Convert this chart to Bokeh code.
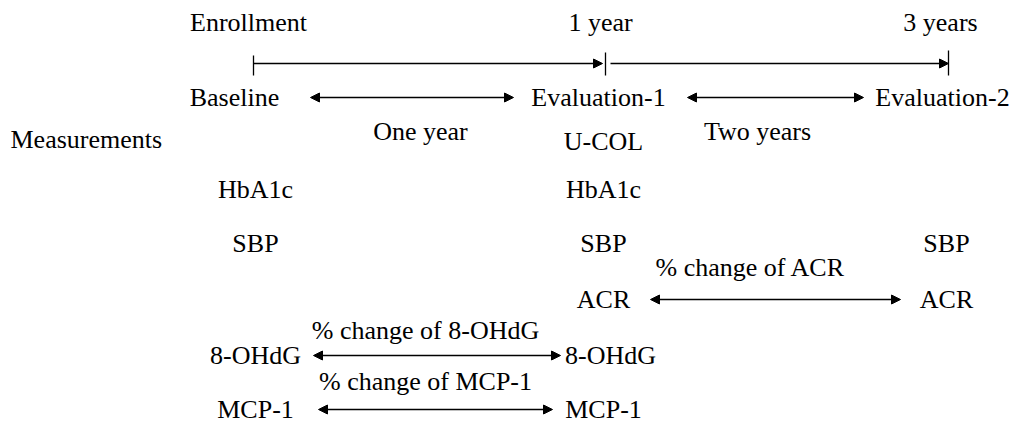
from bokeh.plotting import figure
from bokeh.models import Range1d, Arrow, NormalHead, ColumnDataSource
from bokeh.core.properties import value
from bokeh.embed import file_html
from bokeh.resources import INLINE

# ---- data (labels of the study design diagram) ----
time_points = ["Enrollment", "1 year", "3 years"]
stages = ["Baseline", "Evaluation-1", "Evaluation-2"]
intervals = ["One year", "Two years"]
row_title = ["Measurements"]
baseline_measures = ["HbA1c", "SBP", "8-OHdG", "MCP-1"]
eval1_measures = ["U-COL", "HbA1c", "SBP", "ACR", "8-OHdG", "MCP-1"]
eval2_measures = ["SBP", "ACR"]
change_labels = ["% change of ACR", "% change of 8-OHdG", "% change of MCP-1"]
change_measures = ["ACR", "8-OHdG", "MCP-1"]

# ---- layout (diagram coordinates) ----
FONT = value("Liberation Serif, Times New Roman, DejaVu Serif, serif")
FS = "26px"
col_x = [255, 603, 946]
header_x = [248, 600, 940]
stage_x = [234, 598, 942]
interval_x = [420, 757]
header_y, timeline_y, stage_y, interval_y = 22, 63, 97, 131
row_y = {"U-COL": 141, "HbA1c": 189, "SBP": 243, "ACR": 299, "8-OHdG": 355, "MCP-1": 409}
x_shift = {(1, "8-OHdG"): 7}
change_x = [750, 425, 425]
change_y = [267, 330, 381]
change_span = {"ACR": (650, 900), "8-OHdG": (313, 560), "MCP-1": (318, 552)}
stage_span = [(310, 513), (687, 863)]
tick_x = [253, 605, 948]
tick_top = [55, 52, 50]
timeline_span = [(253, 602), (610, 948)]

p = figure(width=1015, height=423, x_range=Range1d(0, 1015), y_range=Range1d(423, 0),
           output_backend="svg", toolbar_location=None, min_border=0)
p.axis.visible = False
p.grid.visible = False
p.outline_line_color = None
p.background_fill_color = "white"


def put(xs, ys, texts, align="center"):
    src = ColumnDataSource(dict(x=xs, y=ys, t=texts))
    p.text("x", "y", text="t", source=src, text_font=FONT, text_font_size=FS,
           text_align=align, text_baseline="middle", text_color="black")


put(header_x, [header_y] * 3, time_points)
put(stage_x, [stage_y] * 3, stages)
put(interval_x, [interval_y] * 2, intervals)
put([10], [139], row_title, align="left")

for ci, measures in enumerate([baseline_measures, eval1_measures, eval2_measures]):
    xs = [col_x[ci] + x_shift.get((ci, m), 0) for m in measures]
    ys = [row_y[m] for m in measures]
    put(xs, ys, measures)

put(change_x, change_y, change_labels)

# timeline ticks
p.segment(x0=tick_x, y0=tick_top, x1=tick_x, y1=[75] * 3, line_color="black", line_width=1.3)


def head():
    return NormalHead(size=9, fill_color="black", line_color="black", line_width=1)


for (a, b) in timeline_span:
    p.add_layout(Arrow(x_start=a, y_start=timeline_y, x_end=b, y_end=timeline_y,
                       end=head(), line_color="black", line_width=1.3))

for (a, b) in stage_span:
    p.add_layout(Arrow(x_start=a, y_start=stage_y, x_end=b, y_end=stage_y,
                       start=head(), end=head(), line_color="black", line_width=1.3))

for m in change_measures:
    a, b = change_span[m]
    p.add_layout(Arrow(x_start=a, y_start=row_y[m], x_end=b, y_end=row_y[m],
                       start=head(), end=head(), line_color="black", line_width=1.3))

open("out.html", "w").write(file_html(p, INLINE))
